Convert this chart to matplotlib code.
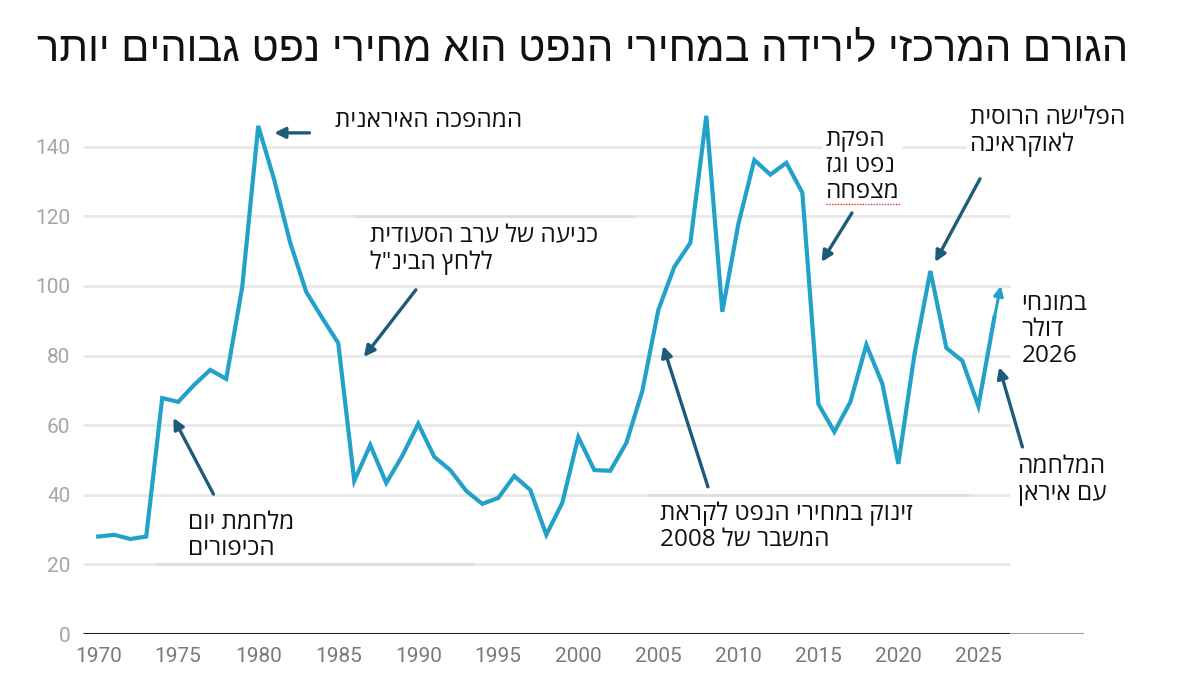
import re

import matplotlib

matplotlib.use("Agg")
import matplotlib.pyplot as plt

# Real oil price (2026 dollars), yearly
years = list(range(1970, 2027))
price = [
    28.0, 28.5, 27.3, 28.0, 67.8, 66.7, 71.6, 75.9, 73.3, 99.7,
    146.0, 130.5, 112.4, 98.3, 90.8, 83.6, 44.0, 54.3, 43.4, 51.2,
    60.4, 50.9, 47.1, 41.1, 37.4, 39.1, 45.4, 41.4, 28.5, 37.7,
    56.6, 47.1, 46.9, 54.9, 69.8, 93.1, 105.5, 112.4, 148.9, 92.6,
    117.8, 136.2, 132.0, 135.4, 126.8, 66.1, 58.1, 66.7, 83.1, 71.9,
    48.9, 80.2, 104.3, 82.2, 78.5, 65.5, 91.0,
]
y_ticks = [0, 20, 40, 60, 80, 100, 120, 140]
x_ticks = list(range(1970, 2026, 5))

title = "הגורם המרכזי לירידה במחירי הנפט הוא מחירי נפט גבוהים יותר"

# (text lines, text anchor x/y, arrow tail, arrow head)
notes = [
    (["המהפכה האיראנית"], (1984.8, 147.5), (1983.2, 144.0), (1981.0, 144.0)),
    (["כניעה של ערב הסעודית", "ללחץ הבינ\"ל"], (1987.0, 110.5), (1989.85, 98.9), (1986.6, 79.6)),
    (["מלחמת יום", "הכיפורים"], (1975.6, 28.2), (1977.2, 40.2), (1974.7, 62.1)),
    (["זינוק במחירי הנפט לקראת", "המשבר של 2008"], (2005.1, 30.8), (2008.1, 42.3), (2005.3, 82.8)),
    (["הפקת", "נפט וגז", "מצפחה"], (2015.45, 134.4), (2017.1, 121.0), (2015.2, 106.9)),
    (["הפלישה הרוסית", "לאוקראינה"], (2024.45, 144.3), (2025.1, 130.8), (2022.3, 106.9)),
    (["במונחי", "דולר", "2026"], (2027.7, 87.4), None, None),
    (["המלחמה", "עם איראן"], (2027.45, 44.1), (2027.75, 53.75), (2026.3, 76.7)),
]

LINE = "#22a1c9"
ARROW = "#1d5b78"
GRID = "#e8e8e8"
HEB = ["Open Sans", "DejaVu Sans"]


def rtl(s):
    """Visual order for a right-to-left line: reverse, keep digit runs readable."""
    rev = s[::-1]
    return re.sub(r"[0-9A-Za-z.,]+", lambda m: m.group(0)[::-1], rev)


fig = plt.figure(figsize=(11.91, 6.92), dpi=100)
ax = fig.add_axes([83 / 1191, 58 / 692, 1001 / 1191, 522 / 692])
ax.set_xlim(1969.05, 2031.6)
ax.set_ylim(0, 150)
for s in ax.spines.values():
    s.set_visible(False)

x_end = 2027.0
ax.hlines(y_ticks[1:], 1969.05, x_end, color=GRID, lw=2, zorder=1)
# slightly darker grid fragments seen in the source
ax.hlines([120, 40, 20], [1986.0, 2004.3, 1973.6], [2003.5, 2024.4, 1993.5],
          color="#dedede", lw=2.2, zorder=1)
ax.hlines(0, 1969.05, x_end, color="#222222", lw=2.2, zorder=2)
ax.hlines(0, x_end, 2031.6, color="#9a9a9a", lw=1.5, zorder=2)

ax.plot(years, price, color=LINE, lw=3, solid_joinstyle="miter", zorder=3)
ax.annotate("", xy=(2026.4, 100.0), xytext=(years[-1], price[-1]),
            arrowprops=dict(arrowstyle="-|>", color=LINE, lw=2.2, mutation_scale=14,
                            shrinkA=0, shrinkB=0), zorder=4)

ax.set_yticks(y_ticks)
ax.set_xticks(x_ticks)
ax.tick_params(length=0)
ax.tick_params(axis="x", pad=9)
ax.tick_params(axis="y", pad=9)
ax.set_yticklabels([str(v) for v in y_ticks], color="#a6a6a6", fontsize=15, family="Roboto")
ax.set_xticklabels([str(v) for v in x_ticks], color="#7a7a7a", fontsize=15, family="Roboto")

for lines, (tx, ty), tail, head in notes:
    txt = "\n".join(rtl(l) for l in lines)
    boxed = lines[0] in ("הפקת", "הפלישה הרוסית")
    ax.text(tx, ty, txt, ha="left", va="center", ma="left", fontsize=17.5, family=HEB,
            linespacing=1.12, color="#111111", zorder=5,
            bbox=dict(facecolor="white", edgecolor="none", pad=2) if boxed else None)
    if tail is not None:
        ax.annotate("", xy=head, xytext=tail,
                    arrowprops=dict(arrowstyle="-|>", color=ARROW, lw=2.4, mutation_scale=16,
                                    shrinkA=0, shrinkB=0), zorder=5)

# spell-check squiggle under the last shale word
ax.plot([2015.5, 2020.1], [123.6, 123.6], color="#e03030", lw=1, ls=(0, (1, 1)), zorder=6)

fig.text(583 / 1191, 1 - 50 / 692, rtl(title), ha="center", va="center",
         fontsize=30, family=["Liberation Sans", "DejaVu Sans"], color="#111111")

fig.savefig("out.png", dpi=100)
